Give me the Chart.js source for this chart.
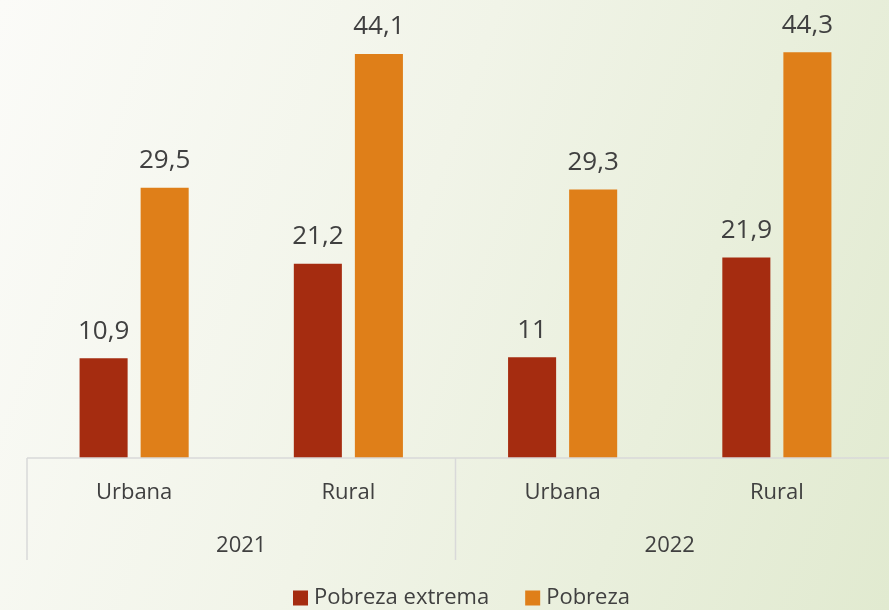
<!DOCTYPE html>
<html>
<head>
<meta charset="utf-8">
<script src="https://cdn.jsdelivr.net/npm/chart.js@4/dist/chart.umd.min.js"></script>
<style>
  html, body { margin: 0; padding: 0; }
  body {
    width: 889px; height: 610px; overflow: hidden;
    background: linear-gradient(110deg, #fbfbf8 0%, #f1f4e8 45%, #e1ead0 100%);
  }
  #wrap { width: 889px; height: 610px; position: relative; }
</style>
</head>
<body>
<div id="wrap"><canvas id="myChart"></canvas></div>
<script>
var categories = ['Urbana', 'Rural', 'Urbana', 'Rural'];
var years = ['2021', '2022'];
var pobrezaExtrema = [10.9, 21.2, 11, 21.9];
var pobreza = [29.5, 44.1, 29.3, 44.3];

var FONT = '"Open Sans", Lato, sans-serif';
var TEXT = '#404040';
var LINE = '#d9d9d9';

function fmt(v) {
    return String(v).replace('.', ',');
}

// value labels over every bar
var barLabels = {
    id: 'barLabels',
    afterDatasetsDraw: function (chart) {
        var ctx = chart.ctx;
        ctx.save();
        ctx.font = '26px ' + FONT;
        ctx.fillStyle = TEXT;
        ctx.textAlign = 'center';
        ctx.textBaseline = 'middle';
        chart.data.datasets.forEach(function (ds, i) {
            chart.getDatasetMeta(i).data.forEach(function (bar, j) {
                ctx.fillText(fmt(ds.data[j]), bar.x, bar.y - 27);
            });
        });
        ctx.restore();
    }
};

// two-level category axis (Urbana/Rural under each year) + legend
var groupAxis = {
    id: 'groupAxis',
    afterDraw: function (chart) {
        var ctx = chart.ctx;
        var area = chart.chartArea;
        var x = chart.scales.x;
        var half = (x.getPixelForValue(1) - x.getPixelForValue(0)) / 2;
        var bottom = area.bottom + 102;
        ctx.save();
        ctx.strokeStyle = LINE;
        ctx.lineWidth = 1.5;
        ctx.beginPath();
        ctx.moveTo(area.left, area.bottom);
        ctx.lineTo(area.right + 6, area.bottom);
        var seps = [area.left, x.getPixelForValue(1) + half];
        seps.forEach(function (sx) {
            ctx.moveTo(sx, area.bottom);
            ctx.lineTo(sx, bottom);
        });
        ctx.stroke();

        ctx.font = '22px ' + FONT;
        ctx.fillStyle = TEXT;
        ctx.textAlign = 'center';
        ctx.textBaseline = 'middle';
        categories.forEach(function (c, i) {
            ctx.fillText(c, x.getPixelForValue(i), area.bottom + 35);
        });
        years.forEach(function (y, k) {
            var cx = (x.getPixelForValue(k * 2) + x.getPixelForValue(k * 2 + 1)) / 2;
            ctx.fillText(y, cx, area.bottom + 88);
        });

        // legend
        var box = 15, gapText = 6, gapItem = 36;
        var ly = area.bottom + 140;
        var items = chart.data.datasets.map(function (ds) {
            return { label: ds.label, color: ds.backgroundColor, w: ctx.measureText(ds.label).width };
        });
        var total = items.reduce(function (s, it) { return s + box + gapText + it.w; }, 0) + gapItem * (items.length - 1);
        var lx = (area.left + area.right) / 2 + 6 - total / 2;
        ctx.textAlign = 'left';
        items.forEach(function (it) {
            ctx.fillStyle = it.color;
            ctx.fillRect(lx, ly - box / 2, box, box);
            ctx.fillStyle = TEXT;
            ctx.fillText(it.label, lx + box + gapText, ly);
            lx += box + gapText + it.w + gapItem;
        });
        ctx.restore();
    }
};

var ctx = document.getElementById('myChart');
var myChart = new Chart(ctx, {
    type: 'bar',
    data: {
        labels: categories,
        datasets: [{
            label: 'Pobreza extrema',
            data: pobrezaExtrema,
            backgroundColor: '#a52c10'
        }, {
            label: 'Pobreza',
            data: pobreza,
            backgroundColor: '#df7f19'
        }]
    },
    options: {
        responsive: true,
        maintainAspectRatio: false,
        animation: false,
        layout: { padding: { left: 27, right: 5, top: 0, bottom: 0 } },
        datasets: {
            bar: { categoryPercentage: 0.57, barPercentage: 0.787 }
        },
        scales: {
            y: { display: false, min: 0, max: 50 },
            x: {
                ticks: { display: false },
                grid: { display: false },
                border: { display: false },
                // room below the plot for the grouped labels and legend
                afterFit: function (s) { s.height = 152; }
            }
        },
        plugins: {
            tooltip: { enabled: false },
            legend: { display: false }
        }
    },
    plugins: [barLabels, groupAxis]
});
</script>
</body>
</html>
